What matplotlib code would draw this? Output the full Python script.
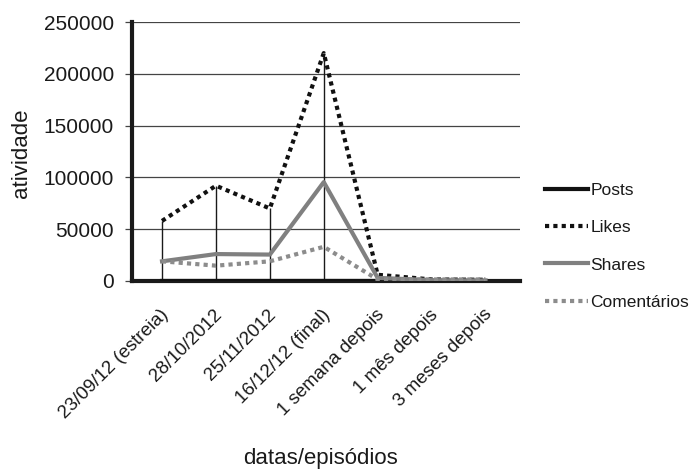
import matplotlib
matplotlib.use("Agg")
import matplotlib.pyplot as plt
import matplotlib.transforms as mtransforms
import numpy as np

categories = ["23/09/12 (estreia)", "28/10/2012", "25/11/2012", "16/12/12 (final)",
              "1 semana depois", "1 mês depois", "3 meses depois"]
posts = [30, 25, 20, 40, 10, 5, 2]
likes = [58000, 92000, 70000, 220000, 6000, 1500, 1200]
shares = [19000, 26000, 25500, 95500, 3000, 800, 500]
comentarios = [19000, 14800, 19000, 33000, 1500, 1500, 1500]
yticks = [0, 50000, 100000, 150000, 200000, 250000]

plt.rcParams['font.family'] = ['Liberation Sans', 'DejaVu Sans']

fig = plt.figure(figsize=(6.94, 4.69), dpi=100)
ax = fig.add_axes([132/694, 1-281/469, 388/694, 259/469])

x = np.arange(len(categories))

for s in ['top', 'right']:
    ax.spines[s].set_visible(False)
ax.spines['left'].set_linewidth(3)
ax.spines['bottom'].set_linewidth(3)
ax.spines['left'].set_color('#1a1a1a')
ax.spines['bottom'].set_color('#1a1a1a')

ax.set_ylim(0, 250000)
ax.set_xlim(-0.557, 6.64)
ax.set_yticks(yticks)
ax.set_yticklabels([str(v) for v in yticks], fontsize=15, color='#1a1a1a')
ax.yaxis.grid(True, color='#444444', linewidth=0.9)
ax.set_axisbelow(True)
ax.tick_params(axis='y', length=5, width=0.9, color='#444444', pad=8)

ax.set_xticks(x)
ax.set_xticklabels(categories, rotation=45, ha='right', rotation_mode='anchor',
                   fontsize=13.5, color='#1a1a1a')
ax.tick_params(axis='x', length=0, pad=18)
offset = mtransforms.ScaledTranslation(-2/100, 0, fig.dpi_scale_trans)
for lab in ax.get_xticklabels():
    lab.set_transform(lab.get_transform() + offset)

# drop lines
ax.vlines(x[:4], 0, likes[:4], color='#1a1a1a', linewidth=1.0, zorder=2)

ax.plot(x, posts, color='#111111', linewidth=3, label='Posts', zorder=3)
ax.plot(x, likes, color='#111111', linewidth=3, linestyle=(0, (1, 1)), label='Likes', zorder=4)
ax.plot(x, shares, color='#808080', linewidth=3, label='Shares', zorder=5)
ax.plot(x, comentarios, color='#8c8c8c', linewidth=3, linestyle=(0, (1, 1)), label='Comentários', zorder=6)

leg = ax.legend(loc='upper left', bbox_to_anchor=(545/694, 1-183/469), bbox_transform=fig.transFigure,
                frameon=False, fontsize=12.5, handlelength=2.45, handletextpad=0.15,
                labelspacing=1.27, borderaxespad=0, borderpad=0)
for t in leg.get_texts():
    t.set_color('#1a1a1a')

fig.text(22/694, 1-153/469, 'atividade', rotation=90, fontsize=16, ha='center', va='center', color='#1a1a1a')
fig.text(321/694, 1-458/469, 'datas/episódios', fontsize=16, ha='center', va='center', color='#1a1a1a')

fig.savefig('out.png', dpi=100)
